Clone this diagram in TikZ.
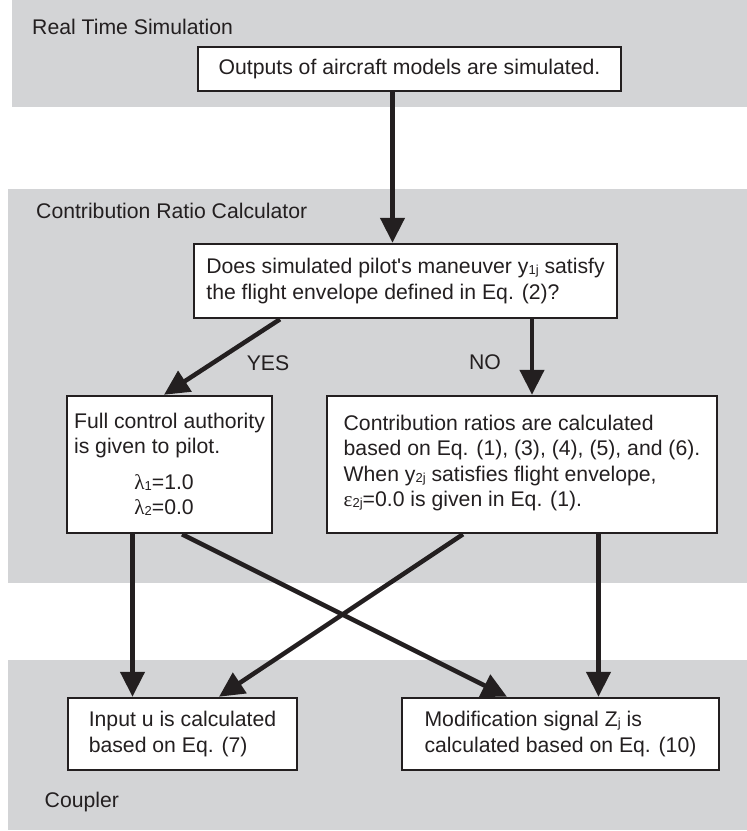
\documentclass[tikz,border=0pt]{standalone}
\usepackage{fontspec}
\setmainfont{Liberation Sans}
\newfontfamily\grk{Liberation Serif}
\newfontfamily\plainsans{Liberation Sans}
\usetikzlibrary{arrows.meta}
\definecolor{bandgray}{RGB}{211,212,214}
\definecolor{ink}{RGB}{35,31,32}
\newcommand\sbs[1]{\raisebox{-1pt}{\fontsize{13}{13}\selectfont #1}}
\newcommand\apos{{\plainsans\symbol{39}}}
\begin{document}
\begin{tikzpicture}[x=1pt,y=-1pt,
  band/.style={fill=bandgray,draw=none},
  boxnode/.style={draw=ink,line width=2.5pt,fill=white,inner xsep=0pt,inner ysep=0pt,
    font=\fontsize{21.2}{25.5}\selectfont,text=ink,anchor=center,align=left},
  arr/.style={draw=ink,line width=4.5pt,-{Triangle[length=25pt,width=24pt]}},
  lbl/.style={font=\fontsize{21.2}{25.5}\selectfont,text=ink,inner sep=0pt}]
\useasboundingbox (0,0) rectangle (747,831);
% bands
\fill[band] (12,0) rectangle (747,107);
\fill[band] (8,189) rectangle (747,583);
\fill[band] (8,660) rectangle (747,830);
% band titles
\node[lbl,anchor=west] (t1) at (32,27) {Real Time Simulation};
\node[lbl,anchor=west] (t2) at (36,211) {Contribution Ratio Calculator};
\node[lbl,anchor=west] (t3) at (44.5,802) {Coupler};
% boxes
\node[boxnode,minimum width=423pt,minimum height=44pt] (b1) at (409.5,69)
  {Outputs of aircraft models are simulated.};
\node[boxnode,minimum width=423pt,minimum height=74pt] (b2) at (405.5,281)
  {Does simulated pilot\apos s maneuver y\sbs{1j} satisfy\\the flight envelope defined in Eq. (2)?};
\node[boxnode,minimum width=205pt,minimum height=137pt] (b3) at (169.5,464.5)
  {\mbox{}\\[-11pt]Full control authority\\is given to pilot.\\[10pt]
   \makebox[180pt][c]{{\grk λ}\sbs{1}=1.0}\\
   \makebox[180pt][c]{{\grk λ}\sbs{2}=0.0}};
\node[boxnode,minimum width=390pt,minimum height=137pt] (b4) at (522,464.5)
  {Contribution ratios are calculated\\based on Eq. (1), (3), (4), (5), and (6).\\When y\sbs{2j} satisfies flight envelope,\\{\grk ε}\sbs{2j}=0.0 is given in Eq. (1).\\[-18pt]\mbox{}};
\node[boxnode,minimum width=229pt,minimum height=72pt] (b5) at (182.5,734)
  {Input u is calculated\\based on Eq. (7)};
\node[boxnode,minimum width=317pt,minimum height=72pt] (b6) at (560.5,734)
  {Modification signal Z\sbs{j} is\\calculated based on Eq. (10)};
% labels
\node[lbl] (yes) at (268,363) {YES};
\node[lbl] (no) at (485,362) {NO};
% connectors
\draw[arr] (b1.south -| 392.5,0) -- (b2.north -| 392.5,0);
\draw[arr] (b2.south -| 280,0) -- (b3.north -| 164,0);
\draw[arr] (b2.south -| 532,0) -- (b4.north -| 532,0);
\draw[arr] (b3.south -| 132.5,0) -- (b5.north -| 132.5,0);
\draw[arr] (b3.south -| 182,0) -- (b6.north -| 507,0);
\draw[arr] (b4.south -| 463,0) -- (b5.north -| 219,0);
\draw[arr] (b4.south -| 598.5,0) -- (b6.north -| 598.5,0);
\end{tikzpicture}
\end{document}
